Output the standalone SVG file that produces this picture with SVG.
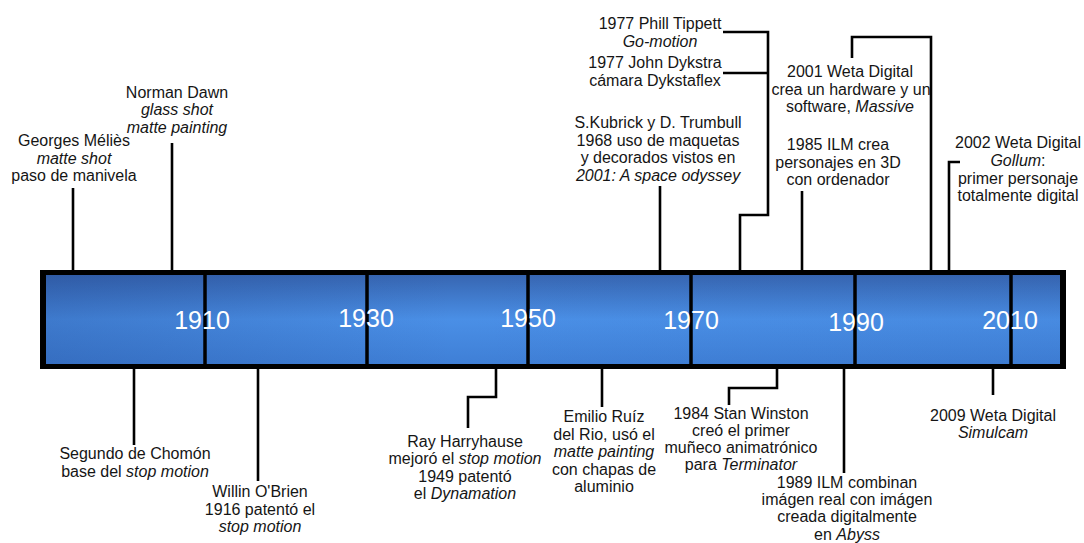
<svg xmlns="http://www.w3.org/2000/svg" width="1084" height="543" viewBox="0 0 1084 543">
<style>
.t{font-family:"Liberation Sans",Arial,sans-serif;font-size:16px;fill:#151515;text-anchor:middle}
.i{font-style:italic}
.y{font-family:"Liberation Sans",Arial,sans-serif;font-size:25px;fill:#ffffff;text-anchor:middle}
.c{fill:none;stroke:#000;stroke-width:2.6;stroke-linejoin:miter}
.d{stroke:#000;stroke-width:3.5}
</style>
<defs>
<linearGradient id="g" x1="0" y1="0" x2="0" y2="1">
<stop offset="0" stop-color="#3766b2"/>
<stop offset="0.5" stop-color="#4a8fe6"/>
<stop offset="1" stop-color="#3f7fd6"/>
</linearGradient>
<linearGradient id="h" x1="0" y1="0" x2="1" y2="0">
<stop offset="0" stop-color="#1a3a80" stop-opacity="0.25"/>
<stop offset="0.4" stop-color="#1a3a80" stop-opacity="0"/>
<stop offset="1" stop-color="#1a3a80" stop-opacity="0.05"/>
</linearGradient>
</defs>
<rect width="1084" height="543" fill="#ffffff"/>
<g id="timeline">
<rect x="40" y="270" width="1026" height="99" fill="#000"/>
<rect x="46" y="275" width="1014" height="89" fill="url(#g)"/>
<rect x="46" y="275" width="1014" height="89" fill="url(#h)"/>
<line class="d" x1="205" y1="275" x2="205" y2="364"/>
<line class="d" x1="367" y1="275" x2="367" y2="364"/>
<line class="d" x1="528" y1="275" x2="528" y2="364"/>
<line class="d" x1="691" y1="275" x2="691" y2="364"/>
<line class="d" x1="855" y1="275" x2="855" y2="364"/>
<line class="d" x1="1011" y1="275" x2="1011" y2="364"/>
<text class="y" x="202" y="329">1910</text>
<text class="y" x="366" y="327">1930</text>
<text class="y" x="528" y="327">1950</text>
<text class="y" x="691" y="329">1970</text>
<text class="y" x="856" y="331">1990</text>
<text class="y" x="1010" y="329">2010</text>
</g>
<g id="connectors">
<line class="c" x1="73" y1="188" x2="73" y2="270"/>
<line class="c" x1="172" y1="143" x2="172" y2="270"/>
<polyline class="c" points="723,32 768,32 768,215 740,215 740,270"/>
<line class="c" x1="723" y1="73" x2="768" y2="73"/>
<line class="c" x1="660" y1="186" x2="660" y2="270"/>
<polyline class="c" points="852,58 852,37 931,37 931,270"/>
<line class="c" x1="802" y1="191" x2="802" y2="270"/>
<polyline class="c" points="960,162 949,162 949,270"/>
<line class="c" x1="134" y1="369" x2="134" y2="445"/>
<line class="c" x1="258" y1="369" x2="258" y2="481"/>
<polyline class="c" points="496,369 496,397 468,397 468,428"/>
<line class="c" x1="602" y1="369" x2="602" y2="407"/>
<polyline class="c" points="777,369 777,388 729,388 729,405"/>
<line class="c" x1="844" y1="369" x2="844" y2="473"/>
<line class="c" x1="993" y1="369" x2="993" y2="395"/>
</g>
<g id="melies">
<text class="t" x="74" y="146">Georges Méliès</text>
<text class="t i" x="74" y="164">matte shot</text>
<text class="t" x="74" y="181">paso de manivela</text>
</g>
<g id="dawn">
<text class="t" x="177" y="98">Norman Dawn</text>
<text class="t i" x="177" y="115">glass shot</text>
<text class="t i" x="177" y="133">matte painting</text>
</g>
<g id="tippett">
<text class="t" x="660" y="29">1977 Phill Tippett</text>
<text class="t i" x="660" y="47">Go-motion</text>
</g>
<g id="dykstra">
<text class="t" x="655" y="68">1977 John Dykstra</text>
<text class="t" x="655" y="86">cámara Dykstaflex</text>
</g>
<g id="kubrick">
<text class="t" x="658" y="128">S.Kubrick y D. Trumbull</text>
<text class="t" x="658" y="146">1968 uso de maquetas</text>
<text class="t" x="658" y="163">y decorados vistos en</text>
<text class="t i" x="658" y="181">2001: A space odyssey</text>
</g>
<g id="weta2001">
<text class="t" x="850" y="77">2001 Weta Digital</text>
<text class="t" x="851" y="95">crea un hardware y un</text>
<text class="t" x="850" y="112">software, <tspan class="i">Massive</tspan></text>
</g>
<g id="ilm1985">
<text class="t" x="838" y="150">1985 ILM crea</text>
<text class="t" x="838" y="168">personajes en 3D</text>
<text class="t" x="838" y="185">con ordenador</text>
</g>
<g id="weta2002">
<text class="t" x="1018" y="148">2002 Weta Digital</text>
<text class="t" x="1018" y="166"><tspan class="i">Gollum</tspan>:</text>
<text class="t" x="1018" y="184">primer personaje</text>
<text class="t" x="1018" y="201">totalmente digital</text>
</g>
<g id="chomon">
<text class="t" x="135" y="459">Segundo de Chomón</text>
<text class="t" x="135" y="477">base del <tspan class="i">stop motion</tspan></text>
</g>
<g id="obrien">
<text class="t" x="260" y="497">Willin O'Brien</text>
<text class="t" x="260" y="515">1916 patentó el</text>
<text class="t i" x="260" y="532">stop motion</text>
</g>
<g id="harryhausen">
<text class="t" x="465" y="447">Ray Harryhause</text>
<text class="t" x="465" y="464">mejoró el <tspan class="i">stop motion</tspan></text>
<text class="t" x="465" y="482">1949 patentó</text>
<text class="t" x="465" y="499">el <tspan class="i">Dynamation</tspan></text>
</g>
<g id="ruiz">
<text class="t" x="604" y="422">Emilio Ruíz</text>
<text class="t" x="604" y="440">del Rio, usó el</text>
<text class="t i" x="604" y="457">matte painting</text>
<text class="t" x="604" y="475">con chapas de</text>
<text class="t" x="604" y="492">aluminio</text>
</g>
<g id="winston">
<text class="t" x="741" y="419">1984 Stan Winston</text>
<text class="t" x="741" y="436">creó el primer</text>
<text class="t" x="741" y="453">muñeco animatrónico</text>
<text class="t" x="741" y="470">para <tspan class="i">Terminator</tspan></text>
</g>
<g id="ilm1989">
<text class="t" x="847" y="488">1989 ILM combinan</text>
<text class="t" x="847" y="505">imágen real con imágen</text>
<text class="t" x="847" y="522">creada digitalmente</text>
<text class="t" x="847" y="540">en <tspan class="i">Abyss</tspan></text>
</g>
<g id="weta2009">
<text class="t" x="993" y="421">2009 Weta Digital</text>
<text class="t i" x="993" y="438">Simulcam</text>
</g>
</svg>
